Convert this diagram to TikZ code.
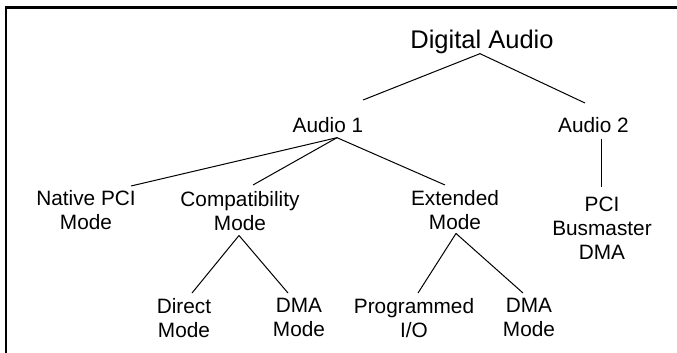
\documentclass[tikz,border=0pt]{standalone}
\usepackage{fontspec}
\setmainfont{Liberation Sans}
\usetikzlibrary{calc}

\tikzset{
  entry/.style={anchor=north, inner sep=0pt, align=center,
    font=\fontsize{20.8}{23.8}\selectfont},
  branch/.style={line width=1pt},
}

\begin{document}
\begin{tikzpicture}[x=1pt,y=-1pt]

    \useasboundingbox (0,0) rectangle (677,353);

    % Frame (only top and left edges are seen)
    \draw[line width=2.3pt] (677,7.5) -- (5.8,7.5) -- (5.8,353);

    % Tree nodes
    \node[entry, font=\fontsize{25.5}{28}\selectfont] (digital) at (482,29.5) {Digital Audio};
    \node[entry] (audioone) at (328,117) {Audio 1};
    \node[entry] (audiotwo) at (593.5,117) {Audio 2};
    \node[entry] (native) at (86,190) {Native PCI\\Mode};
    \node[entry] (compat) at (240,191) {Compatibility\\Mode};
    \node[entry] (extended) at (455,190) {Extended\\Mode};
    \node[entry] (busmaster) at (602,197) {PCI\\Busmaster\\DMA};
    \node[entry] (direct) at (184,298) {Direct\\Mode};
    \node[entry] (compdma) at (299,298) {DMA\\Mode};
    \node[entry] (progio) at (414,298) {Programmed\\I/O};
    \node[entry] (extdma) at (529,298) {DMA\\Mode};

    % Branches from Digital Audio
    \draw[branch] ($(digital.south)+(-2,0)$) -- ($(audioone.north)+(35,-17)$);
    \draw[branch] ($(digital.south)+(-2,0)$) -- ($(audiotwo.north)+(-8.5,-14)$);

    % Branches from Audio 1 and Audio 2
    \draw[branch] ($(audioone.south)+(9,5)$) -- ($(native.north)+(45,-4)$);
    \draw[branch] ($(audioone.south)+(9,5)$) -- ($(compat.north)+(13,-6)$);
    \draw[branch] ($(audioone.south)+(9,5)$) -- ($(extended.north)+(-10,-5)$);
    \draw[branch] ($(audiotwo.south)+(7.5,6)$) -- ($(busmaster.north)+(-1,-10)$);

    % Lower branches
    \draw[branch] ($(compat.south)+(-1,5)$) -- ($(direct.north)+(8,-5)$);
    \draw[branch] ($(compat.south)+(-1,5)$) -- ($(compdma.north)+(-11,-5)$);
    \draw[branch] ($(extended.south)+(1,4)$) -- ($(progio.north)+(4,-5)$);
    \draw[branch] ($(extended.south)+(1,4)$) -- ($(extdma.north)+(-6,-5)$);

\end{tikzpicture}
\end{document}
